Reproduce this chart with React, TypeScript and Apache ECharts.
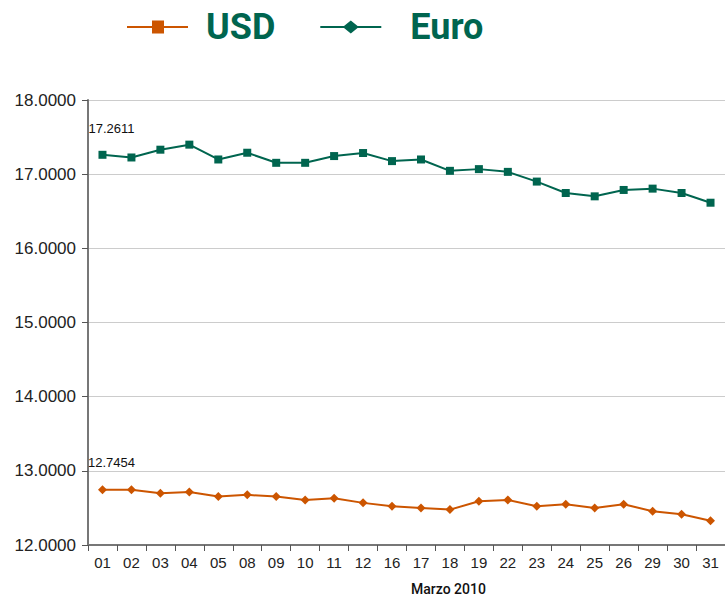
import React, { useEffect, useRef } from "react";
import * as echarts from "echarts";

const categories = ["01","02","03","04","05","08","09","10","11","12","16","17","18","19","22","23","24","25","26","29","30","31"];
const usdValues = [12.7454,12.744,12.699,12.716,12.653,12.676,12.653,12.608,12.631,12.568,12.523,12.5,12.477,12.591,12.608,12.523,12.55,12.5,12.55,12.455,12.415,12.328];
const euroValues = [17.2611,17.225,17.33,17.398,17.198,17.289,17.153,17.153,17.244,17.285,17.176,17.198,17.045,17.068,17.031,16.9,16.746,16.701,16.787,16.805,16.746,16.615];
const yTicks = { min: 12, max: 18, interval: 1 };
const xAxisTitle = "Marzo 2010";

const ORANGE = "#CC5500";
const GREEN = "#00654F";

export default function App() {
  const ref = useRef<HTMLDivElement>(null);
  useEffect(() => {
    if (!ref.current) return;
    const chart = echarts.init(ref.current, undefined, { renderer: "svg" });
    const firstLabel = (v: number) => ({
      value: v,
      label: {
        show: true,
        position: "top",
        distance: 16,
        offset: [9, 0],
        formatter: (p: any) => p.value.toFixed(4),
        fontSize: 13,
        color: "#111",
        fontFamily: "Liberation Sans",
      },
    });
    const legendText = {
      fontSize: 36,
      fontWeight: "bold",
      fontFamily: "Roboto",
      color: GREEN,
    };
    chart.setOption({
      animation: false,
      legend: {
        left: 122,
        top: 4,
        itemWidth: 61,
        itemHeight: 13,
        itemGap: 45,
        selectedMode: false,
        textStyle: { ...legendText, padding: [0, 0, 0, 13] },
        data: [
          { name: "USD", icon: "path://M0,5.5H61V7.5H0Z M25,0H37V13H25Z" },
          {
            name: "Euro",
            icon: "path://M0,5.5H61V7.5H0Z M30.5,0L38.5,6.5L30.5,13L22.5,6.5Z",
            textStyle: { ...legendText, padding: [0, 0, 0, 24] },
          },
        ],
      },
      grid: { left: 88, top: 100, right: -10, bottom: 55 },
      xAxis: {
        type: "category",
        data: categories,
        boundaryGap: true,
        axisLine: { lineStyle: { color: "#777", width: 2 } },
        axisTick: { show: true, length: 6, lineStyle: { color: "#555" } },
        axisLabel: { fontSize: 15, color: "#222", margin: 10, fontFamily: "Liberation Sans", interval: 0 },
        splitLine: { show: false },
      },
      yAxis: {
        type: "value",
        min: yTicks.min,
        max: yTicks.max,
        interval: yTicks.interval,
        axisLine: { show: true, lineStyle: { color: "#777", width: 2 } },
        axisTick: { show: true, length: 6, inside: false, lineStyle: { color: "#555" } },
        axisLabel: {
          fontSize: 17,
          color: "#222",
          margin: 12,
          fontFamily: "Liberation Sans",
          formatter: (v: number) => v.toFixed(4),
        },
        splitLine: { show: true, lineStyle: { color: "#cccccc", width: 1 } },
      },
      graphic: [
        {
          type: "text",
          left: 411,
          top: 582,
          style: { text: xAxisTitle, fontSize: 14, fontFamily: "Roboto", fontWeight: 500, fill: "#111" },
        },
      ],
      series: [
        {
          name: "USD",
          type: "line",
          data: usdValues.map((v, i) => (i === 0 ? firstLabel(v) : v)),
          symbol: "diamond",
          symbolSize: 9,
          itemStyle: { color: ORANGE },
          lineStyle: { color: ORANGE, width: 2 },
        },
        {
          name: "Euro",
          type: "line",
          data: euroValues.map((v, i) => (i === 0 ? firstLabel(v) : v)),
          symbol: "rect",
          symbolSize: 8,
          itemStyle: { color: GREEN },
          lineStyle: { color: GREEN, width: 2 },
        },
      ],
    });
    return () => chart.dispose();
  }, []);
  return <div ref={ref} style={{ width: 725, height: 600, position: "absolute", left: 0, top: 0 }} />;
}
